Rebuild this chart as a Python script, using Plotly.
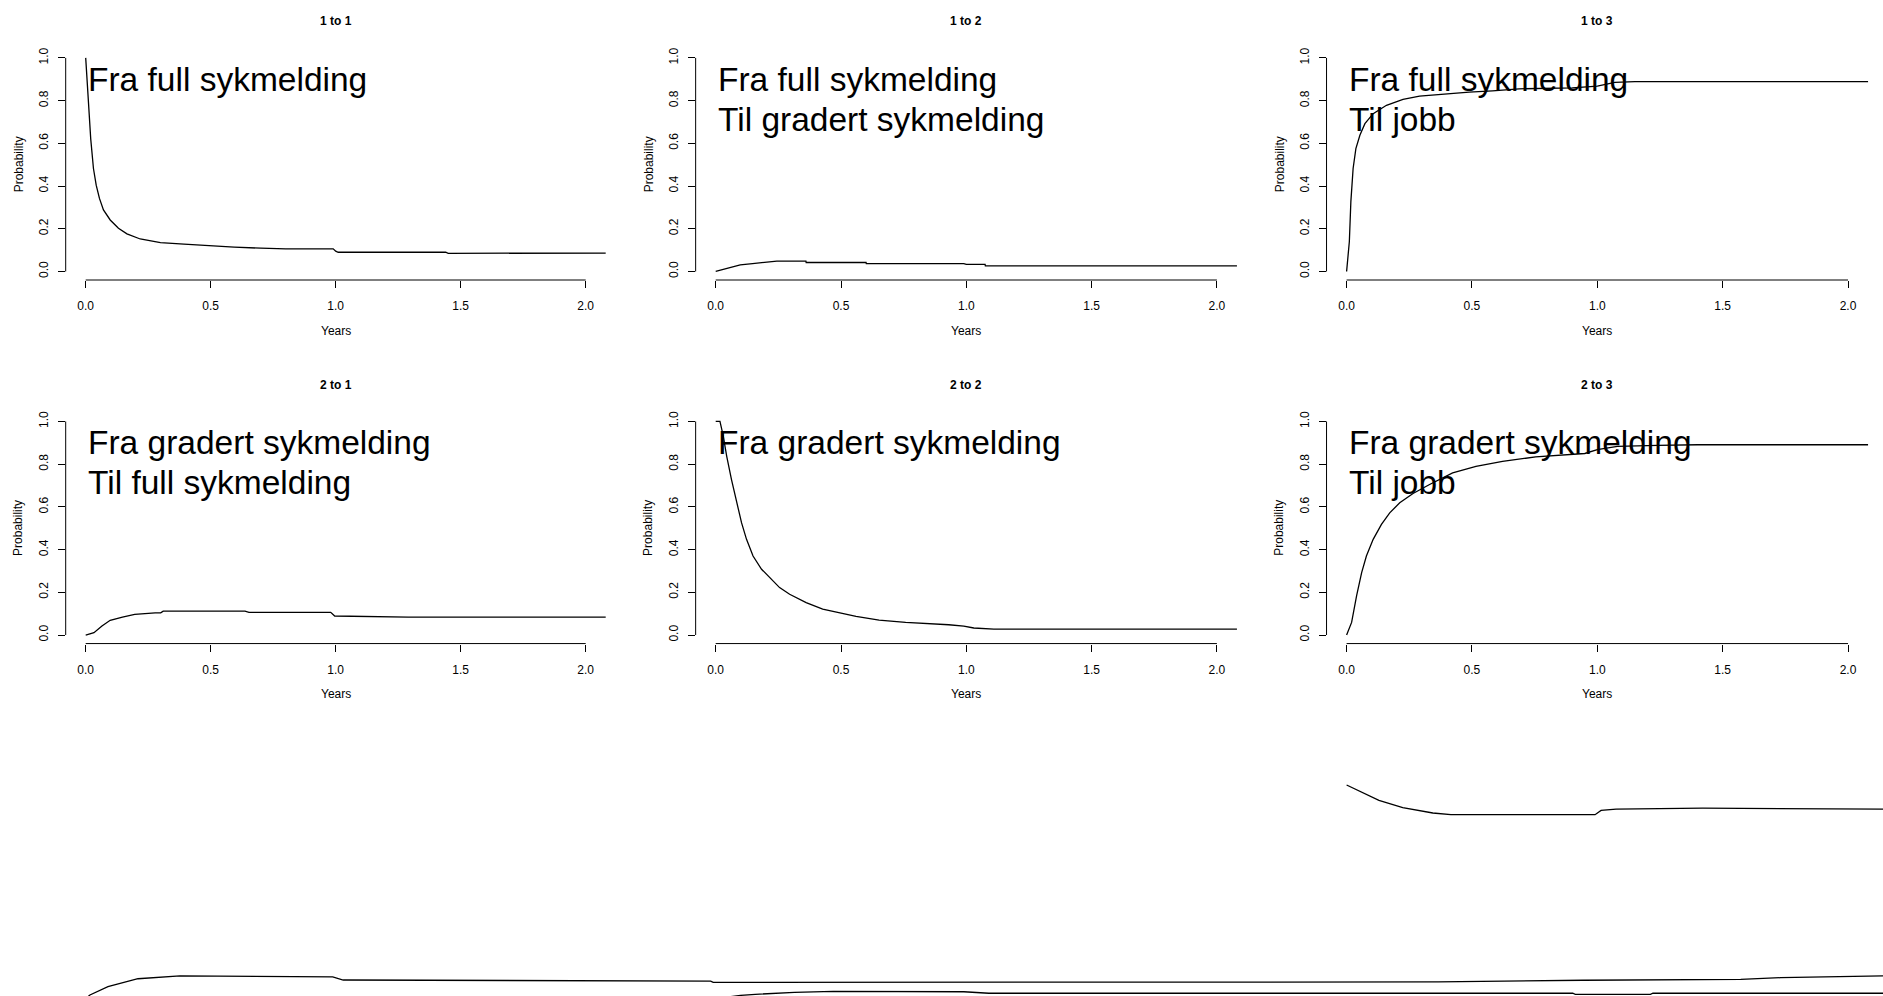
import plotly.graph_objects as go

# Transition probabilities between states (1 = full sykmelding, 2 = gradert sykmelding, 3 = jobb)
t11 = [0, 0.004, 0.011, 0.020, 0.031, 0.042, 0.055, 0.071, 0.098, 0.131, 0.165, 0.218, 0.299, 0.393, 0.50, 0.594, 0.70, 0.80, 0.99, 1.00, 1.01, 1.44, 1.45, 1.62, 2.09]
p11 = [1.0, 0.90, 0.793, 0.622, 0.482, 0.404, 0.342, 0.288, 0.241, 0.202, 0.176, 0.152, 0.135, 0.128, 0.120, 0.114, 0.109, 0.106, 0.106, 0.095, 0.090, 0.090, 0.085, 0.086, 0.086]

t12 = [0, 0.033, 0.065, 0.098, 0.147, 0.228, 0.244, 0.36, 0.361, 0.60, 0.601, 0.99, 1.0, 1.075, 1.076, 2.09]
p12 = [0, 0.011, 0.023, 0.031, 0.037, 0.044, 0.048, 0.048, 0.042, 0.042, 0.037, 0.037, 0.033, 0.033, 0.026, 0.026]

t13 = [0, 0.011, 0.017, 0.026, 0.037, 0.053, 0.073, 0.106, 0.159, 0.225, 0.291, 0.397, 0.489, 0.582, 0.688, 0.90, 1.00, 1.07, 1.15, 2.09]
p13 = [0, 0.14, 0.327, 0.482, 0.575, 0.638, 0.692, 0.739, 0.778, 0.806, 0.821, 0.832, 0.840, 0.846, 0.855, 0.860, 0.868, 0.885, 0.889, 0.889]

t21 = [0, 0.033, 0.065, 0.098, 0.147, 0.196, 0.278, 0.30, 0.31, 0.637, 0.653, 0.98, 0.996, 1.127, 1.29, 2.09]
p21 = [0, 0.011, 0.042, 0.069, 0.084, 0.097, 0.104, 0.104, 0.112, 0.112, 0.106, 0.106, 0.089, 0.086, 0.084, 0.084]

t22 = [0, 0.017, 0.030, 0.044, 0.063, 0.083, 0.103, 0.123, 0.149, 0.183, 0.216, 0.255, 0.295, 0.361, 0.427, 0.493, 0.56, 0.652, 0.758, 0.93, 0.99, 1.03, 1.11, 2.09]
p22 = [1.0, 1.0, 0.933, 0.837, 0.728, 0.619, 0.526, 0.448, 0.370, 0.308, 0.269, 0.222, 0.191, 0.152, 0.121, 0.103, 0.087, 0.070, 0.059, 0.048, 0.042, 0.033, 0.028, 0.028]

t23 = [0, 0.02, 0.04, 0.06, 0.079, 0.106, 0.139, 0.172, 0.212, 0.265, 0.331, 0.423, 0.516, 0.622, 0.754, 0.886, 0.95, 1.0, 1.08, 1.24, 1.40, 2.09]
p23 = [0, 0.059, 0.184, 0.292, 0.37, 0.448, 0.518, 0.572, 0.619, 0.663, 0.705, 0.759, 0.79, 0.813, 0.834, 0.844, 0.850, 0.868, 0.883, 0.888, 0.891, 0.891]

t31 = [0, 0.017, 0.089, 0.209, 0.377, 0.988, 1.03, 2.50, 2.51, 5.41, 5.99, 6.62, 6.78, 7.19]
p31 = [0, 0.017, 0.056, 0.093, 0.106, 0.102, 0.087, 0.082, 0.076, 0.078, 0.086, 0.090, 0.098, 0.106]

t32 = [0, 0.099, 0.158, 0.23, 0.314, 0.469, 0.895, 0.99, 1.09, 3.42, 3.43, 3.73, 3.74, 4.66]
p32 = [0, 0.015, 0.020, 0.025, 0.029, 0.034, 0.034, 0.032, 0.025, 0.025, 0.020, 0.020, 0.025, 0.025]

t33 = [0, 0.057, 0.129, 0.224, 0.344, 0.416, 0.991, 1.015, 1.075, 1.42, 1.805, 2.14]
p33 = [1.0, 0.967, 0.928, 0.894, 0.869, 0.861, 0.861, 0.881, 0.887, 0.892, 0.889, 0.887]

panel_titles = ["1 to 1", "1 to 2", "1 to 3", "2 to 1", "2 to 2", "2 to 3"]
panel_labels = [
    ["Fra full sykmelding"],
    ["Fra full sykmelding", "Til gradert sykmelding"],
    ["Fra full sykmelding", "Til jobb"],
    ["Fra gradert sykmelding", "Til full sykmelding"],
    ["Fra gradert sykmelding"],
    ["Fra gradert sykmelding", "Til jobb"],
]
x_ticks = [0, 0.5, 1.0, 1.5, 2.0]
x_ticktext = ["0.0", "0.5", "1.0", "1.5", "2.0"]
y_ticks = [0, 0.2, 0.4, 0.6, 0.8, 1.0]
y_ticktext = ["0.0", "0.2", "0.4", "0.6", "0.8", "1.0"]

series = [(t11, p11), (t12, p12), (t13, p13),
          (t21, p21), (t22, p22), (t23, p23),
          (t31, p31), (t32, p32), (t33, p33)]

W, H = 1883, 996
FONT = "Liberation Sans, Arial, Helvetica, sans-serif"

# pixel position of x=0 and pixels per year for each column,
# pixel position of y=0 and pixels per unit probability for each row
cols = [(85.7, 250.0), (715.7, 250.6), (1346.6, 250.7)]
rows = [(270.0, 214.0), (634.3, 214.0), (998.6, 214.0)]


def fx(px):
    return px / W


def fy(py):
    return 1 - py / H


fig = go.Figure()
layout = dict(
    width=W, height=H,
    margin=dict(l=0, r=0, t=0, b=0),
    paper_bgcolor="white", plot_bgcolor="rgba(0,0,0,0)",
    showlegend=False,
    font=dict(family=FONT, color="black", size=12),
)
shapes = []
annotations = []

for i, (t, p) in enumerate(series):
    r, c = divmod(i, 3)
    x0, ppy = cols[c]
    y0, ppu = rows[r]
    n = i + 1
    xa = "xaxis" if n == 1 else f"xaxis{n}"
    ya = "yaxis" if n == 1 else f"yaxis{n}"
    xr = "x" if n == 1 else f"x{n}"
    yr = "y" if n == 1 else f"y{n}"

    left_px = x0 - 0.08 * ppy
    top_px = y0 - 1.04 * ppu
    if r < 2:
        xrange = [-0.08, 2.08]
        right_px = x0 + 2.08 * ppy
        yrange = [-0.04, 1.04]
        bottom_px = y0 + 0.04 * ppu
        visible = True
    else:
        right_px = W
        xrange = [-0.08, (W - x0) / ppy]
        bottom_px = H
        yrange = [(y0 - H) / ppu, 1.04]
        visible = False

    layout[xa] = dict(
        domain=[fx(left_px), fx(right_px)], range=xrange, anchor=yr,
        visible=visible, showgrid=False, zeroline=False, showline=False,
        tickmode="array", tickvals=x_ticks, ticktext=x_ticktext,
        ticks="outside", ticklen=7, tickwidth=1, tickcolor="black",
        tickfont=dict(size=12, color="black", family=FONT),
        ticklabelstandoff=8,
    )
    layout[ya] = dict(
        domain=[fy(bottom_px), fy(top_px)], range=yrange, anchor=xr,
        visible=visible, showgrid=False, zeroline=False, showline=False,
        tickmode="array", tickvals=y_ticks, ticktext=y_ticktext,
        ticks="outside", ticklen=7, tickwidth=1, tickcolor="black",
        tickangle=-90,
        tickfont=dict(size=12, color="black", family=FONT),
        ticklabelstandoff=5,
    )

    fig.add_trace(go.Scatter(
        x=t, y=p, mode="lines", xaxis=xr, yaxis=yr,
        line=dict(color="black", width=1.3), hoverinfo="skip",
    ))

    if r < 2:
        # axis lines spanning only the tick range
        shapes.append(dict(type="line", xref="paper", yref="paper",
                           x0=fx(x0), x1=fx(x0 + 2.0 * ppy),
                           y0=fy(bottom_px), y1=fy(bottom_px),
                           line=dict(color="black", width=1)))
        shapes.append(dict(type="line", xref="paper", yref="paper",
                           x0=fx(left_px), x1=fx(left_px),
                           y0=fy(y0), y1=fy(y0 - ppu),
                           line=dict(color="black", width=1)))
        cx = (left_px + right_px) / 2
        annotations.append(dict(text="<b>" + panel_titles[i] + "</b>",
                                xref="paper", yref="paper", x=fx(cx), y=fy(top_px - 28),
                                xanchor="center", yanchor="middle", showarrow=False,
                                font=dict(size=12, family=FONT, color="black")))
        annotations.append(dict(text="Years", xref="paper", yref="paper",
                                x=fx(cx), y=fy(bottom_px + 51),
                                xanchor="center", yanchor="middle", showarrow=False,
                                font=dict(size=12, family=FONT, color="black")))
        annotations.append(dict(text="Probability", xref="paper", yref="paper",
                                x=fx(left_px - 47), y=fy(y0 - 0.5 * ppu), textangle=-90,
                                xanchor="center", yanchor="middle", showarrow=False,
                                font=dict(size=12, family=FONT, color="black")))
        for k, line in enumerate(panel_labels[i]):
            base_px = top_px + 42.6 + 40 * k
            annotations.append(dict(text=line, xref="paper", yref="paper",
                                    x=fx(x0 + 0.5), y=fy(base_px + 8),
                                    xanchor="left", yanchor="bottom", showarrow=False,
                                    font=dict(size=33.5, family=FONT, color="black")))

layout["shapes"] = shapes
layout["annotations"] = annotations
fig.update_layout(**layout)
fig.write_html("out.html")
